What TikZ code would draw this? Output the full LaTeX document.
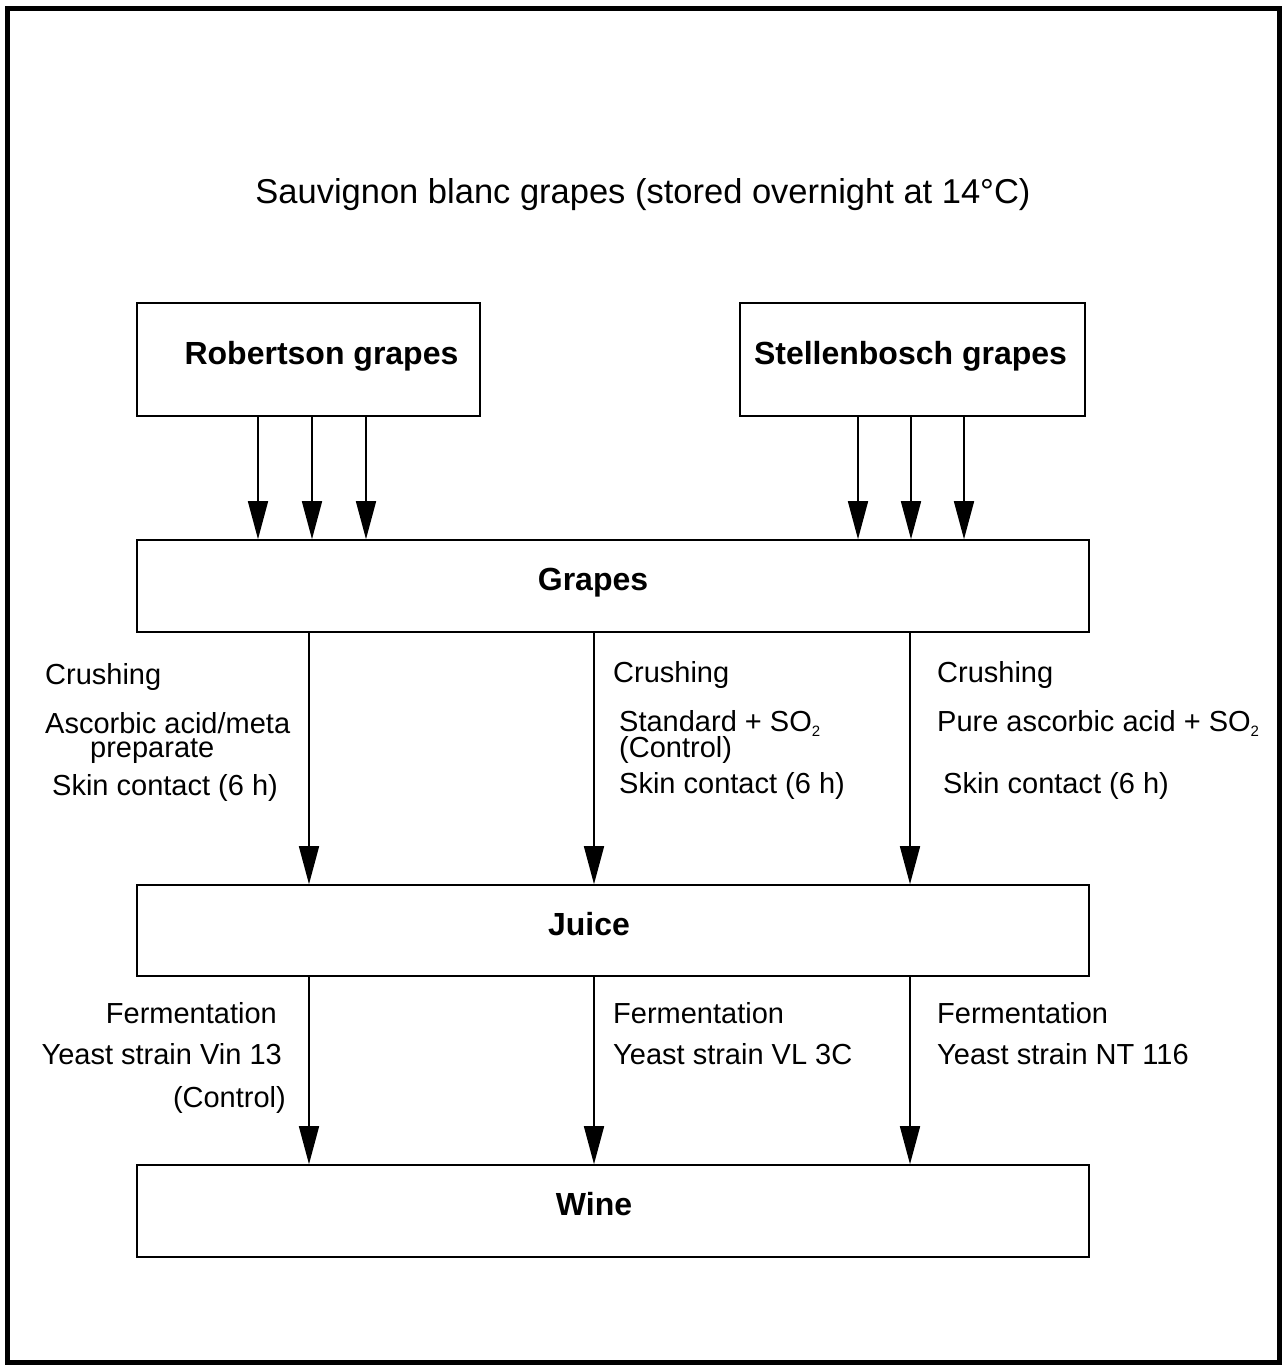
\documentclass[tikz,border=0pt]{standalone}
\usepackage{fontspec}
\setmainfont{Liberation Sans}
\usepackage{tikz}
\usetikzlibrary{arrows.meta}
\newcommand{\subscr}[1]{\raisebox{-5pt}{\fontsize{15pt}{15pt}\selectfont #1}}

\begin{document}
\begin{tikzpicture}[
        x=1pt, y=-1pt,
        box/.style={draw, line width=1.6pt, inner sep=0pt},
        boxlbl/.style={inner sep=0pt, text height=23pt, text depth=14pt,
            font=\fontsize{32pt}{36pt}\selectfont\bfseries},
        lbl/.style={inner sep=0pt, anchor=base west, font=\fontsize{29pt}{34pt}\selectfont},
        rlbl/.style={lbl, anchor=base east},
        arr/.style={line width=1.6pt, -{Triangle[length=38pt, width=20pt]}}
        ]
        \useasboundingbox (0,0) rectangle (1287,1367);
        % Frame
        \draw[line width=5pt] (7,9) rectangle (1279,1362);

        % Nodes
        \node[inner sep=0pt, anchor=base, font=\fontsize{34.5pt}{40pt}\selectfont] (title) at (643,204)
            {Sauvignon blanc grapes (stored overnight at 14°C)};
        \node[box, minimum width=343pt, minimum height=113pt,
            label={[boxlbl, xshift=13pt]center:Robertson grapes}] (robertson) at (308.5,359.5) {};
        \node[box, minimum width=345pt, minimum height=113pt,
            label={[boxlbl, xshift=-2pt]center:Stellenbosch grapes}] (stellenbosch) at (912.5,359.5) {};
        \node[box, minimum width=952pt, minimum height=92pt,
            label={[boxlbl, xshift=-20pt]center:Grapes}] (grapes) at (613,586) {};
        \node[box, minimum width=952pt, minimum height=91pt,
            label={[boxlbl, xshift=-24pt]center:Juice}] (juice) at (613,930.5) {};
        \node[box, minimum width=952pt, minimum height=92pt,
            label={[boxlbl, xshift=-19pt]center:Wine}] (wine) at (613,1211) {};

        % Crushing labels
        \node[lbl] (crushA) at (45,684) {Crushing};
        \node[lbl] (ascA) at (45,733) {Ascorbic acid/meta};
        \node[lbl] (prepA) at (90,757) {preparate};
        \node[lbl] (skinA) at (52,795) {Skin contact (6 h)};
        \node[lbl] (crushB) at (613,682) {Crushing};
        \node[lbl] (stdB) at (619,731) {Standard + SO\subscr{2}};
        \node[lbl] (ctrlB) at (619,757) {(Control)};
        \node[lbl] (skinB) at (619,793) {Skin contact (6 h)};
        \node[lbl] (crushC) at (937,682) {Crushing};
        \node[lbl] (pureC) at (937,731) {Pure ascorbic acid + SO\subscr{2}};
        \node[lbl] (skinC) at (943,793) {Skin contact (6 h)};

        % Fermentation labels
        \node[rlbl] (fermA) at (277,1023) {Fermentation};
        \node[rlbl] (yeastA) at (282,1064) {Yeast strain Vin 13};
        \node[rlbl] (ctrlA) at (286,1107) {(Control)};
        \node[lbl] (fermB) at (613,1023) {Fermentation};
        \node[lbl] (yeastB) at (613,1064) {Yeast strain VL 3C};
        \node[lbl] (fermC) at (937,1023) {Fermentation};
        \node[lbl] (yeastC) at (937,1064) {Yeast strain NT 116};

        % Arrows
        \foreach \x in {258,312,366}
            \draw[arr] (\x,0 |- robertson.south) -- (\x,0 |- grapes.north);
        \foreach \x in {858,911,964}
            \draw[arr] (\x,0 |- stellenbosch.south) -- (\x,0 |- grapes.north);
        \foreach \x in {309,594,910} {
            \draw[arr] (\x,0 |- grapes.south) -- (\x,0 |- juice.north);
            \draw[arr] (\x,0 |- juice.south) -- (\x,0 |- wine.north);
        }
    \end{tikzpicture}
\end{document}
